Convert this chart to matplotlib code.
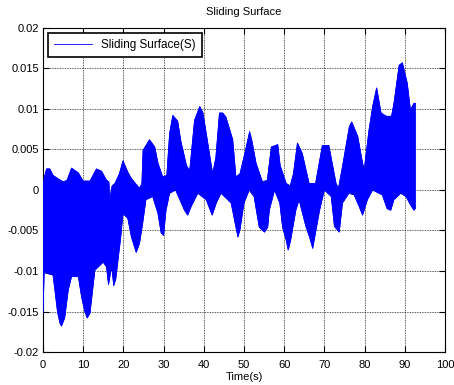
import numpy as np
import matplotlib.pyplot as plt

plt.rcParams['font.family'] = ['Liberation Sans', 'DejaVu Sans']

# upper envelope of S(t)
t_up = [0, 0.3, 0.9, 1.7, 2.5, 3.7, 5.0, 6.0, 7.1, 8.8, 10.0, 11.7, 13.3, 14.6,
        15.8, 16.4, 16.6, 17.2, 17.9, 19.0, 19.9, 21.1, 22.0, 23.0, 24.0, 24.6,
        24.9, 26.5, 27.8, 28.6, 29.8, 30.8, 31.5, 32.3, 33.5, 34.3, 35.7, 36.5,
        37.7, 39.0, 39.8, 40.6, 42.2, 43.0, 43.9, 44.7, 45.5, 47.2, 48.0, 49.0,
        50.2, 51.4, 52.0, 53.0, 54.6, 55.8, 56.8, 58.4, 59.0, 60.5, 61.5, 62.3,
        63.3, 64.5, 66.2, 67.8, 69.5, 71.1, 72.9, 73.5, 74.5, 76.2, 76.8, 78.3,
        79.5, 79.9, 81.1, 82.0, 83.0, 84.1, 85.4, 86.7, 87.3, 88.6, 89.4, 90.6,
        91.4, 92.3, 92.7]
s_up = [0.0, 0.0015, 0.0026, 0.0026, 0.0018, 0.0014, 0.001, 0.0012, 0.0027,
        0.0021, 0.0011, 0.0011, 0.0026, 0.0023, 0.0012, 0.001, -0.0012, 0.0005,
        0.0008, 0.002, 0.0036, 0.0022, 0.0014, 0.0008, 0.0002, 0.0008, 0.0049,
        0.0062, 0.0053, 0.0033, 0.0016, 0.0018, 0.007, 0.0092, 0.0085, 0.006,
        0.003, 0.0024, 0.0086, 0.0103, 0.0095, 0.007, 0.002, 0.004, 0.0095,
        0.0095, 0.009, 0.0062, 0.0016, 0.002, 0.0045, 0.0072, 0.006, 0.0033,
        0.001, 0.0012, 0.0053, 0.0056, 0.003, 0.0008, 0.0005, 0.002, 0.0058,
        0.0045, 0.0008, 0.0008, 0.0055, 0.0055, 0.0008, 0.0002, 0.0029, 0.0078,
        0.0084, 0.0066, 0.0033, 0.0025, 0.0074, 0.0103, 0.0126, 0.0095, 0.0091,
        0.0091, 0.0107, 0.0154, 0.0157, 0.0132, 0.0099, 0.0107, 0.0107]

# lower envelope
t_low = [0, 0.3, 2.5, 3.0, 3.6, 4.2, 4.6, 5.4, 6.3, 7.1, 8.8, 9.6, 10.4, 11.0,
         11.7, 12.9, 15.0, 15.8, 16.3, 16.7, 17.1, 17.6, 18.1, 18.7, 19.3, 19.9,
         21.1, 22.0, 23.2, 24.0, 24.8, 25.6, 27.3, 28.6, 29.4, 30.0, 30.6, 31.5,
         33.0, 35.2, 36.0, 36.8, 38.5, 40.6, 42.1, 43.1, 44.3, 46.8, 48.0, 48.5,
         49.0, 50.0, 51.3, 52.5, 53.8, 55.1, 55.9, 56.3, 57.6, 58.9, 59.6, 60.5,
         61.0, 61.6, 62.9, 63.7, 65.4, 66.3, 67.1, 68.8, 70.0, 71.7, 72.5, 73.7,
         74.5, 76.1, 77.4, 78.7, 79.5, 80.7, 82.0, 84.4, 85.6, 86.5, 87.3, 89.0,
         90.3, 91.5, 92.3, 92.7]
s_low = [-0.0152, -0.0102, -0.0105, -0.0125, -0.015, -0.0164, -0.0168, -0.0158,
         -0.0123, -0.0107, -0.0107, -0.0132, -0.015, -0.0158, -0.0152, -0.0099,
         -0.0089, -0.0095, -0.0117, -0.0105, -0.0095, -0.0118, -0.011, -0.0085,
         -0.006, -0.0029, -0.0035, -0.0058, -0.0077, -0.0066, -0.0041, -0.0012,
         -0.0008, -0.0029, -0.0053, -0.0056, -0.0025, -0.0004, 0.0, -0.0025,
         -0.0031, -0.0021, -0.0004, -0.0012, -0.0031, -0.0016, -0.0004, -0.0016,
         -0.0046, -0.0058, -0.0049, -0.0016, 0.0, -0.0008, -0.0046, -0.0052,
         -0.0046, -0.0025, 0.0, -0.0016, -0.0046, -0.0062, -0.0074, -0.0062,
         -0.0025, -0.0012, -0.0045, -0.0058, -0.0072, -0.0025, 0.0, -0.0008,
         -0.0045, -0.0052, -0.0016, -0.0004, -0.0006, -0.0021, -0.0031, -0.0012,
         0.0, -0.0006, -0.0023, -0.0025, -0.0012, -0.0004, -0.0008, -0.0019,
         -0.0025, -0.0022]

x_ticks = np.arange(0, 101, 10)
y_ticks = [-0.02, -0.015, -0.01, -0.005, 0, 0.005, 0.01, 0.015, 0.02]
y_labels = ['-0.02', '-0.015', '-0.01', '-0.005', '0', '0.005', '0.01', '0.015', '0.02']

fig = plt.figure(figsize=(4.54, 3.85), dpi=100)
ax = fig.add_axes([0.0947, 0.0857, 0.8855, 0.8416])

# band between the envelopes
px = np.concatenate([t_up, t_low[::-1]])
py = np.concatenate([s_up, s_low[::-1]])
ax.fill(px, py, color='b', lw=0.5, zorder=3)
ax.plot(t_up, s_up, color='b', lw=0.6, label='Sliding Surface(S)', zorder=3)
ax.plot(t_low, s_low, color='b', lw=0.6, zorder=3)

ax.set_xlim(0, 100)
ax.set_ylim(-0.02, 0.02)
ax.set_xticks(x_ticks)
ax.set_yticks(y_ticks)
ax.set_yticklabels(y_labels)
ax.tick_params(direction='in', length=4, width=0.8, labelsize=8,
               top=True, right=True, pad=3)
ax.tick_params(axis='x', pad=6)
ax.grid(True, color='k', linestyle=(0, (1, 1)), lw=0.6, alpha=0.85)
for s in ax.spines.values():
    s.set_linewidth(0.8)

ax.set_title('Sliding Surface', fontsize=8, pad=9)
ax.set_xlabel('Time(s)', fontsize=8, labelpad=1)

leg = ax.legend(loc='upper left', fontsize=8.5, fancybox=False, framealpha=1,
                edgecolor='k', borderpad=0.5, handlelength=3.2,
                bbox_to_anchor=(0.0, 1.0), borderaxespad=0.45)
leg.get_frame().set_linewidth(1.2)

fig.savefig('out.png', dpi=100)
